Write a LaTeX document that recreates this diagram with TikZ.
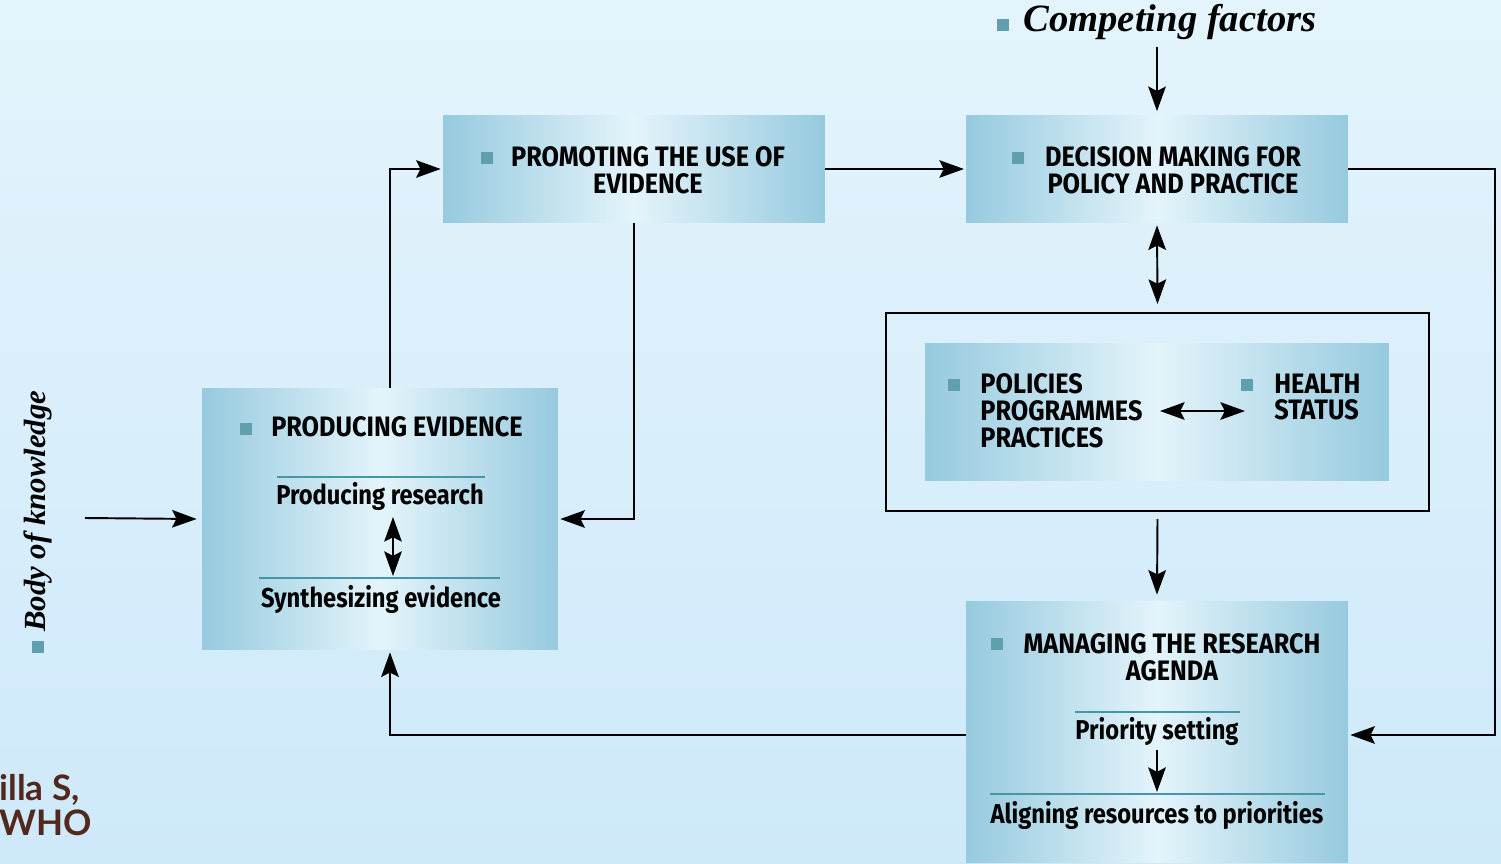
\documentclass[tikz,border=0pt]{standalone}
\usepackage{fontspec}
\usetikzlibrary{arrows.meta}
\newfontfamily\boxfont[FakeStretch=0.9]{Fira Sans}
\newfontfamily\subfont[FakeStretch=0.87]{Fira Sans}
\newfontfamily\capfont{Liberation Serif}
\newfontfamily\credfont{Lato}
\definecolor{bgtop}{RGB}{228,244,252}
\definecolor{bgbot}{RGB}{206,233,250}
\definecolor{boxedge}{RGB}{150,202,222}
\definecolor{boxmid}{RGB}{228,244,251}
\definecolor{dotc}{RGB}{96,160,172}
\definecolor{rulec}{RGB}{70,150,165}
\definecolor{credc}{RGB}{82,40,28}
\tikzset{>={Stealth[length=14pt,width=10pt,inset=2.5pt]}}

\begin{document}
\begin{tikzpicture}[
  x=0.02cm, y=-0.02cm,
  link/.style={draw, line width=1.1pt},
  panel/.style={shade, left color=boxedge, right color=boxedge, middle color=boxmid, inner sep=0pt},
  dot/.style={fill=dotc, minimum size=0.24cm, inner sep=0pt},
  head/.style={font=\boxfont\bfseries\fontsize{16}{15.3}\selectfont, inner sep=0pt},
  sub/.style={font=\subfont\bfseries\fontsize{15.5}{15}\selectfont, inner sep=0pt},
  divider/.style={draw=rulec, line width=0.8pt}
]
% background
\shade[top color=bgtop, bottom color=bgbot] (0,0) rectangle (1501,863);
\useasboundingbox (0,0) rectangle (1501,863);

% boxes
\node[panel, minimum width=7.64cm, minimum height=2.16cm] (promo) at (634,169) {};
\node[panel, minimum width=7.64cm, minimum height=2.16cm] (decide) at (1157,169) {};
\node[panel, minimum width=7.12cm, minimum height=5.24cm] (prod) at (380,519) {};
\node[draw, line width=1.2pt, minimum width=10.86cm, minimum height=3.96cm, inner sep=0pt] (frame) at (1157.5,412) {};
\node[panel, minimum width=9.28cm, minimum height=2.76cm] (pol) at (1157,412) {};
\node[panel, minimum width=7.64cm, minimum height=5.24cm] (manage) at (1157,732) {};

% texts
\node[dot] at (487,158) {};
\node[head, align=center] (promotxt) at (648,170) {PROMOTING THE USE OF\\EVIDENCE};
\node[dot] at (1018,158) {};
\node[head, align=center] (decidetxt) at (1173,170) {DECISION MAKING FOR\\POLICY AND PRACTICE};

\node[dot] at (246,429) {};
\node[head] (prodtxt) at (397,427) {PRODUCING EVIDENCE};
\node[sub] (research) at (380,496) {Producing research};
\node[sub] (synth) at (381,599) {Synthesizing evidence};
\draw[divider] (277,477) -- (485,477);
\draw[divider] (259,578) -- (500,578);
\draw[<->, line width=1.1pt] (393,517) -- (393,576);

\node[dot] at (954,385) {};
\node[head, align=left, anchor=west] (poltxt) at (980,411) {POLICIES\\PROGRAMMES\\PRACTICES};
\node[dot] at (1247,385) {};
\node[head, align=left, anchor=west] (healthtxt) at (1274,397) {HEALTH\\STATUS};
\draw[<->, line width=1.1pt] (1160,411) -- (1245,411);

\node[dot] at (997,644) {};
\node[head, align=center] (managetxt) at (1172,657) {MANAGING THE RESEARCH\\AGENDA};
\node[sub] (priority) at (1157,731) {Priority setting};
\node[sub] (align) at (1157,815) {Aligning resources to priorities};
\draw[divider] (1075,712) -- (1240,712);
\draw[divider] (990,794) -- (1325,794);
\draw[->, line width=1.1pt] (1157,750) -- (1157,792);

% outside labels
\node[dot] at (1003,25) {};
\node[font=\capfont\bfseries\itshape\fontsize{22}{22}\selectfont, anchor=west, inner sep=0pt] (compete) at (1023,22) {Competing factors};
\node[dot] at (38,647) {};
\node[font=\capfont\bfseries\itshape\fontsize{17.5}{18}\selectfont, rotate=90, anchor=west, inner sep=0pt] (body) at (38,632) {Body of knowledge};
\coordinate (bodyend) at (85,518);
\node[font=\credfont\bfseries\fontsize{20}{20}\selectfont, text=credc, anchor=east, inner sep=0pt] (cred1) at (80,790) {illa S,};
\node[font=\credfont\bfseries\fontsize{20}{20}\selectfont, text=credc, anchor=east, inner sep=0pt] (cred2) at (92,823) {WHO};

% connectors
\coordinate (cftop) at (1157,47);
\coordinate (rightc) at (1495,169);
\draw[link, ->] (cftop) -- ([yshift=2pt]decide.north);
\draw[link, ->] (promo.east) -- ([xshift=-1pt]decide.west);
\draw[link, <->] ([yshift=-0.04cm]decide.south) -- ([yshift=0.16cm]frame.north);
\draw[link, ->] ([yshift=-0.14cm]frame.south) -- ([yshift=0.12cm]manage.north);
\draw[link, ->] (decide.east) -- (rightc) |- ([xshift=0.04cm, yshift=-0.06cm]manage.east);
\draw[link, ->] ([yshift=-0.06cm]manage.west) -| ([xshift=0.2cm, yshift=-0.04cm]prod.south);
\draw[link, ->] ([xshift=0.2cm]prod.north) |- ([xshift=-0.04cm]promo.west);
\draw[link, ->] (promo.south) |- ([xshift=0.04cm]prod.east);
\draw[link, ->] (bodyend) -- ([xshift=-0.1cm]prod.west);
\end{tikzpicture}
\end{document}
